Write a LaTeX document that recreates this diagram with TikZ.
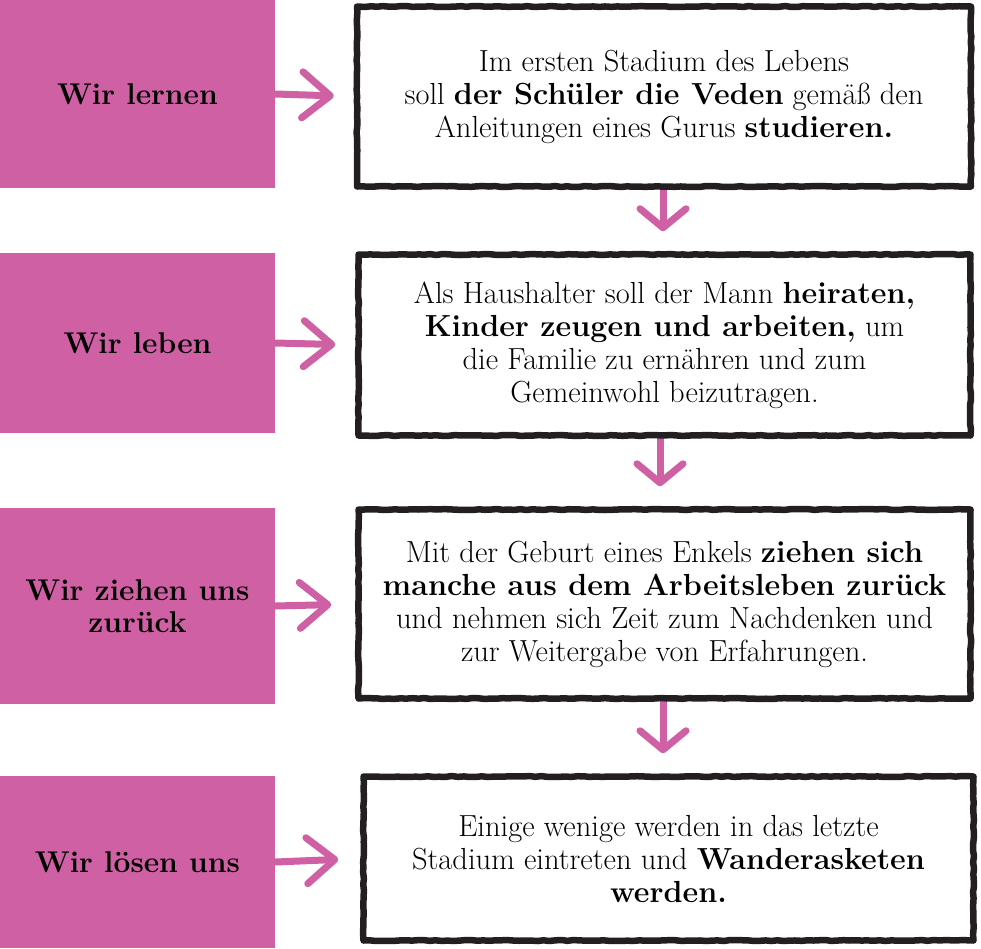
\documentclass[tikz,border=0pt]{standalone}
\usetikzlibrary{arrows.meta,decorations.pathmorphing,backgrounds}
\definecolor{pinkc}{RGB}{207,96,163}
\definecolor{inkc}{RGB}{35,31,32}
\tikzset{
  x=1pt,y=-1pt,
  label box/.style={fill=pinkc,draw=none,inner sep=0pt,align=center,
    font=\fontsize{30}{32}\selectfont\bfseries,text=black},
  text box/.style={draw=inkc,line width=6.5pt,line join=round,line cap=round,inner sep=0pt,align=center,
    font=\fontsize{30.5}{33}\selectfont,
    decorate,decoration={random steps,segment length=6pt,amplitude=0.5pt}},
  flow/.style={draw=pinkc,line width=7pt,line cap=round,line join=round,
    -{Straight Barb[length=28pt,width=46pt,line cap=round,line join=round]}},
  flowdown/.style={draw=pinkc,line width=7pt,line cap=round,line join=round,
    -{Straight Barb[length=19pt,width=46pt,line cap=round,line join=round]}},
}
\pgfmathsetseed{7}
\begin{document}
\begin{tikzpicture}
\useasboundingbox (0,0) rectangle (981,948);
\node[label box,minimum width=275pt,minimum height=188pt] (l1) at (137.5,94) {Wir lernen};
\node[label box,minimum width=275pt,minimum height=180pt] (l2) at (137.5,343) {Wir leben};
\node[label box,minimum width=275pt,minimum height=196pt] (l3) at (137.5,606) {Wir ziehen uns\\zurück};
\node[label box,minimum width=275pt,minimum height=172pt] (l4) at (137.5,862) {Wir lösen uns};

\node[text box,minimum width=614pt,minimum height=180pt] (b1) at (664,96.5)
  {Im ersten Stadium des Lebens\\soll \textbf{der Schüler die Veden} gemäß den\\Anleitungen eines Gurus \textbf{studieren.}};
\node[text box,minimum width=612pt,minimum height=181pt] (b2) at (664.5,345)
  {Als Haushalter soll der Mann \textbf{heiraten,}\\\textbf{Kinder zeugen und arbeiten,} um\\die Familie zu ernähren und zum\\Gemeinwohl beizutragen.};
\node[text box,minimum width=612pt,minimum height=189pt] (b3) at (664.5,604)
  {Mit der Geburt eines Enkels \textbf{ziehen sich}\\\textbf{manche aus dem Arbeitsleben zurück}\\und nehmen sich Zeit zum Nachdenken und\\zur Weitergabe von Erfahrungen.};
\node[text box,minimum width=610pt,minimum height=164pt] (b4) at (668.5,858.5)
  {Einige wenige werden in das letzte\\Stadium eintreten und \textbf{Wanderasketen}\\\textbf{werden.}};

\begin{scope}[on background layer]
\draw[flow,shorten >=20pt] (l1.east) -- (b1.west);
\draw[flow,shorten >=20pt] (l2.east) -- (b2.west);
\draw[flow,shorten >=24pt] (l3.east) -- (b3.west);
\draw[flow,shorten >=22pt] (l4.east) -- (b4.west);
\draw[flowdown,shorten >=20pt] (b1.south -| 663,0) -- (b2.north -| 663,0);
\draw[flowdown,shorten >=20pt] (b2.south -| 660,0) -- (b3.north -| 660,0);
\draw[flowdown,shorten >=20pt] (b3.south -| 663,0) -- (b4.north -| 663,0);
\end{scope}
\end{tikzpicture}
\end{document}
